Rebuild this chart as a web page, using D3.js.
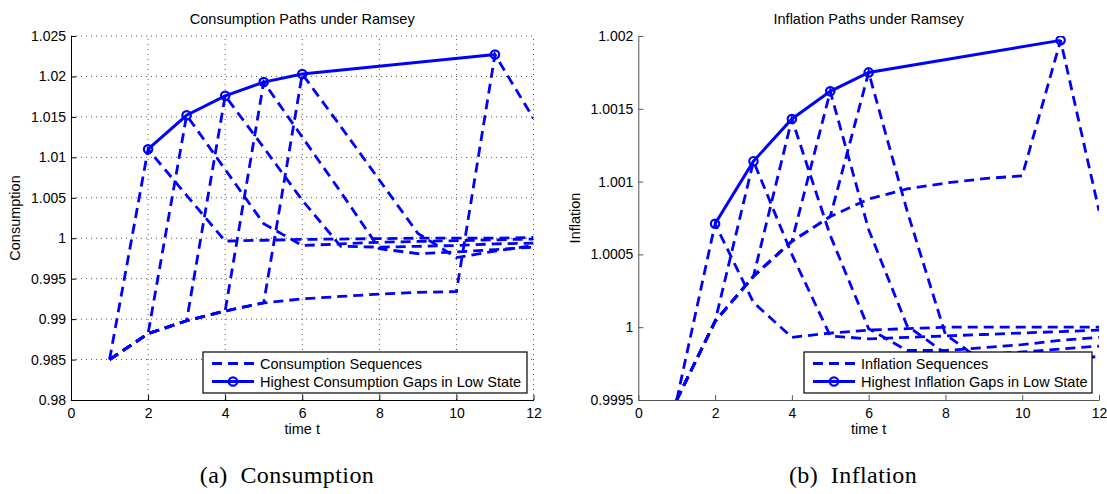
<!DOCTYPE html>
<html>
<head>
<meta charset="utf-8">
<script src="https://cdn.jsdelivr.net/npm/d3@7"></script>
<style>
  body { margin: 0; background: #fff; }
  svg { display: block; font-family: "Liberation Sans", Arial, Helvetica, sans-serif; }
</style>
</head>
<body>
<svg id="chart" width="1107" height="494"></svg>
<script>
// time axis shared by every sequence
var periods = [1, 2, 3, 4, 5, 6, 7, 8, 9, 10, 11, 12];
var peakPeriods = [2, 3, 4, 5, 6, 11];
var xTicks = [0, 2, 4, 6, 8, 10, 12];

// consumption sequences (one per period of the jump)
var consSeq2  = [0.9850, 1.0110, 1.0053, 0.99965, 0.99975, 0.99985, 0.9999, 0.99995, 1.0000, 1.0000, 1.0000, 1.0001];
var consSeq3  = [0.9850, 0.9882, 1.0152, 1.0085, 1.0018, 0.9991, 0.9993, 0.9995, 0.9996, 0.9997, 0.9998, 0.9999];
var consSeq4  = [0.9850, 0.9882, 0.9898, 1.0176, 1.0112, 1.0047, 0.9990, 0.9989, 0.9990, 0.9991, 0.9993, 0.9994];
var consSeq5  = [0.9850, 0.9882, 0.9898, 0.9910, 1.0193, 1.0125, 1.0057, 0.9987, 0.9981, 0.9983, 0.9986, 0.9989];
var consSeq6  = [0.9850, 0.9882, 0.9898, 0.9910, 0.9920, 1.0203, 1.0138, 1.0072, 1.0006, 0.9976, 0.9984, 0.9991];
var consSeq11 = [0.9850, 0.9882, 0.9898, 0.9910, 0.9920, 0.9925, 0.9928, 0.9931, 0.9933, 0.9934, 1.0227, 1.0148];
var consPeaks = [1.0110, 1.0152, 1.0176, 1.0193, 1.0203, 1.0227];
var consTicks = [0.98, 0.985, 0.99, 0.995, 1, 1.005, 1.01, 1.015, 1.02, 1.025];

// inflation sequences
var inflSeq2  = [0.9995, 1.00071, 1.00017, 0.99993, 0.99996, 0.99998, 0.99999, 1.0, 1.0, 1.0, 1.0, 1.0];
var inflSeq3  = [0.9995, 1.00004, 1.00114, 1.00050, 0.99994, 0.99992, 0.99993, 0.99994, 0.99995, 0.99996, 0.99997, 0.99998];
var inflSeq4  = [0.9995, 1.00004, 1.00035, 1.00143, 1.00063, 0.99999, 0.99984, 0.99984, 0.99986, 0.99988, 0.99991, 0.99993];
var inflSeq5  = [0.9995, 1.00004, 1.00035, 1.00059, 1.00162, 1.00067, 1.00001, 0.99982, 0.99981, 0.99983, 0.99985, 0.99987];
var inflSeq6  = [0.9995, 1.00004, 1.00035, 1.00059, 1.00076, 1.00175, 1.00080, 0.99995, 0.99976, 0.99974, 0.99977, 0.99980];
var inflSeq11 = [0.9995, 1.00004, 1.00035, 1.00059, 1.00076, 1.00088, 1.00095, 1.00099, 1.00102, 1.00104, 1.00197, 1.00080];
var inflPeaks = [1.00071, 1.00114, 1.00143, 1.00162, 1.00175, 1.00197];
var inflTicks = [0.9995, 1, 1.0005, 1.001, 1.0015, 1.002];

var blue = "#0000ff";
var svg = d3.select("#chart");

function drawPanel(p) {
  var g = svg.append("g");
  var x = d3.scaleLinear().domain([0, 12]).range([p.left, p.right]);
  var y = d3.scaleLinear().domain([p.yTicks[0], p.yTicks[p.yTicks.length - 1]]).range([400, 36]);

  // dotted grid (left panel only)
  if (p.grid) {
    g.append("g").selectAll("line").data(xTicks.slice(1)).enter().append("line")
      .attr("x1", function(d) { return x(d); }).attr("x2", function(d) { return x(d); })
      .attr("y1", y.range()[0]).attr("y2", y.range()[1])
      .attr("stroke", "#555").attr("stroke-width", 1).attr("stroke-dasharray", "1,4");
    g.append("g").selectAll("line").data(p.yTicks.slice(1)).enter().append("line")
      .attr("y1", function(d) { return y(d); }).attr("y2", function(d) { return y(d); })
      .attr("x1", x.range()[0]).attr("x2", x.range()[1])
      .attr("stroke", "#555").attr("stroke-width", 1).attr("stroke-dasharray", "1,4");
  }

  var clipId = "clip" + p.id;
  g.append("clipPath").attr("id", clipId).append("rect")
    .attr("x", p.left).attr("y", 36).attr("width", p.right - p.left).attr("height", 364);

  var line = d3.line()
    .x(function(d, i) { return x(periods[i]); })
    .y(function(d) { return y(d); });

  var plot = g.append("g").attr("clip-path", "url(#" + clipId + ")");
  p.series.forEach(function(s) {
    plot.append("path").datum(s)
      .attr("d", line)
      .attr("fill", "none").attr("stroke", blue)
      .attr("stroke-width", 2.8).attr("stroke-dasharray", "10,6");
  });

  // highest gaps line with circle markers
  var peakLine = d3.line()
    .x(function(d, i) { return x(peakPeriods[i]); })
    .y(function(d) { return y(d); });
  plot.append("path").datum(p.peaks)
    .attr("d", peakLine)
    .attr("fill", "none").attr("stroke", blue).attr("stroke-width", 3);
  plot.selectAll("circle.mk").data(p.peaks).enter().append("circle")
    .attr("class", "mk")
    .attr("cx", function(d, i) { return x(peakPeriods[i]); })
    .attr("cy", function(d) { return y(d); })
    .attr("r", 4.2)
    .attr("fill", "none").attr("stroke", blue).attr("stroke-width", 2.2);

  // axes
  var xAxis = d3.axisBottom(x).tickValues(xTicks).tickSizeInner(-5).tickSizeOuter(0).tickPadding(8)
    .tickFormat(d3.format("d"));
  var yAxis = d3.axisLeft(y).tickValues(p.yTicks).tickSizeInner(-5).tickSizeOuter(0).tickPadding(5)
    .tickFormat(function(d) { return String(+d.toFixed(p.dec)); });
  var gx = g.append("g").attr("transform", "translate(0,400)").call(xAxis);
  var gy = g.append("g").attr("transform", "translate(" + p.left + ",0)").call(yAxis);
  [gx, gy].forEach(function(a) {
    a.selectAll("path,line").attr("stroke", p.axisColor).attr("stroke-width", 1);
    a.selectAll("text").attr("fill", "#000").style("font-size", "14px")
      .style("font-family", "'Liberation Sans', Arial, sans-serif");
  });

  // titles and labels
  var cx = (p.left + p.right) / 2;
  g.append("text").attr("x", cx).attr("y", 24).attr("text-anchor", "middle")
    .style("font-size", "14.5px").text(p.title);
  g.append("text").attr("x", cx).attr("y", 434).attr("text-anchor", "middle")
    .style("font-size", "14.5px").text("time t");
  g.append("text").attr("transform", "translate(" + p.yLabelX + ",218) rotate(-90)")
    .attr("text-anchor", "middle").style("font-size", "14.5px").text(p.yLabel);

  // legend
  var lg = g.append("g");
  lg.append("rect").attr("x", p.legend[0]).attr("y", 352)
    .attr("width", p.legend[1] - p.legend[0]).attr("height", 41)
    .attr("fill", "#fff").attr("stroke", "#000").attr("stroke-width", 1.2);
  var lx = p.legend[0] + 9;
  lg.append("line").attr("x1", lx).attr("x2", lx + 42).attr("y1", 363.5).attr("y2", 363.5)
    .attr("stroke", blue).attr("stroke-width", 2.8).attr("stroke-dasharray", "10,6");
  lg.append("line").attr("x1", lx).attr("x2", lx + 42).attr("y1", 381.5).attr("y2", 381.5)
    .attr("stroke", blue).attr("stroke-width", 3);
  lg.append("circle").attr("cx", lx + 21).attr("cy", 381.5).attr("r", 4.2)
    .attr("fill", "none").attr("stroke", blue).attr("stroke-width", 2.2);
  lg.append("text").attr("x", lx + 48).attr("y", 368.5).style("font-size", "14.5px").text(p.legendText[0]);
  lg.append("text").attr("x", lx + 48).attr("y", 386.5).style("font-size", "14.5px").text(p.legendText[1]);

  // subfigure caption
  svg.append("text").attr("x", p.captionX).attr("y", 483).attr("text-anchor", "middle")
    .style("font-family", "'Liberation Serif', 'Times New Roman', serif")
    .style("font-size", "24px").style("white-space", "pre").style("letter-spacing", "0.4px")
    .text(p.caption);
}

drawPanel({
  id: "a", left: 71, right: 533.5, grid: true, axisColor: "#000", dec: 3,
  yTicks: consTicks,
  series: [consSeq2, consSeq3, consSeq4, consSeq5, consSeq6, consSeq11],
  peaks: consPeaks,
  title: "Consumption Paths under Ramsey", yLabel: "Consumption", yLabelX: 20,
  legend: [203, 527],
  legendText: ["Consumption Sequences", "Highest Consumption Gaps in Low State"],
  caption: "(a)  Consumption", captionX: 287
});

drawPanel({
  id: "b", left: 638.3, right: 1099, grid: false, axisColor: "#555", dec: 4,
  yTicks: inflTicks,
  series: [inflSeq2, inflSeq3, inflSeq4, inflSeq5, inflSeq6, inflSeq11],
  peaks: inflPeaks,
  title: "Inflation Paths under Ramsey", yLabel: "Inflation", yLabelX: 580,
  legend: [804, 1092],
  legendText: ["Inflation Sequences", "Highest Inflation Gaps in Low State"],
  caption: "(b)  Inflation", captionX: 853
});
</script>
</body>
</html>
